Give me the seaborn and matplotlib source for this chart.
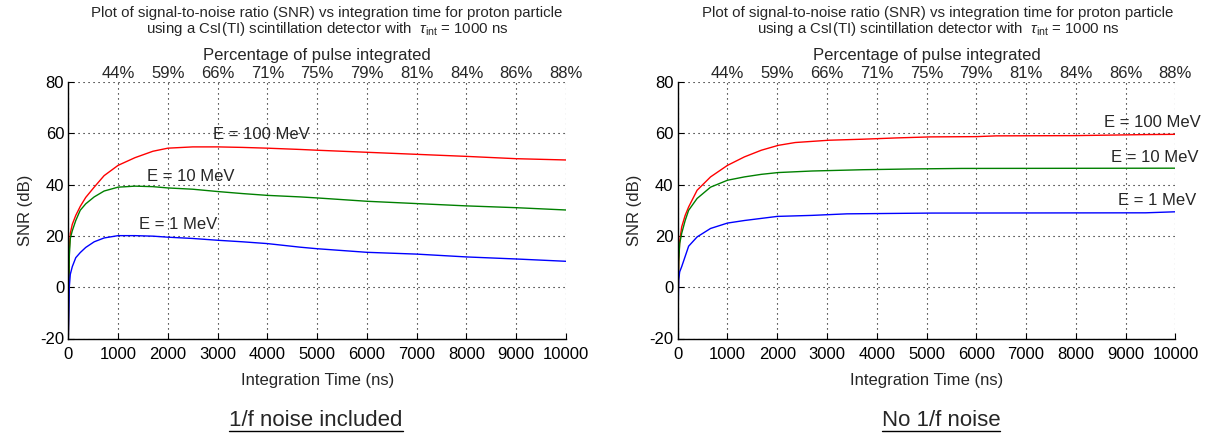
import matplotlib
matplotlib.use("Agg")
import matplotlib.pyplot as plt
import seaborn as sns
import numpy as np
from matplotlib.lines import Line2D

# ---- data ----
# left panel: 1/f noise included
t_left = [0, 20, 40, 80, 150, 240, 350, 520, 720, 1000, 1340, 1700, 2000, 2500,
          3000, 3500, 4000, 4660, 5000, 6000, 7000, 8000, 9000, 10000]
snr_left_100 = [-20, 15, 21, 24.5, 28, 31.5, 35, 39, 43.5, 47.5, 50.5, 53, 54.2, 54.7,
                54.7, 54.5, 54.2, 53.7, 53.4, 52.6, 51.8, 51.0, 50.1, 49.6]
snr_left_10 = [-20, 12, 19, 22, 26, 30, 32.5, 35.2, 37.5, 39, 39.4, 39.2, 38.7, 38.2,
               37.3, 36.5, 35.8, 35.2, 34.8, 33.5, 32.6, 31.7, 31.0, 30.1]
snr_left_1 = [-20, 0, 5, 8, 11.5, 13.5, 15.5, 17.7, 19.2, 20.1, 20.1, 19.9, 19.5, 19.0,
              18.3, 17.7, 17.0, 15.6, 15.0, 13.6, 12.9, 11.8, 11.0, 10.1]

# right panel: no 1/f noise
t_r100 = [0, 20, 40, 80, 150, 220, 390, 660, 1000, 1340, 1680, 2020, 2360, 3040,
          3720, 4400, 5080, 6000, 6400, 8000, 9400, 10000]
snr_r100 = [-20, 10, 18, 23.5, 28, 31.3, 37.8, 43, 47.5, 50.8, 53.4, 55.3, 56.4, 57.3,
            57.7, 58.2, 58.6, 58.7, 59.0, 59.1, 59.5, 59.6]
t_r10 = [0, 20, 40, 80, 150, 220, 390, 660, 1000, 1340, 1680, 2020, 2700, 3720,
         4700, 5700, 10000]
snr_r10 = [-20, 10, 17, 21, 26, 30, 34.6, 39, 41.7, 43, 44, 44.7, 45.3, 45.8,
           46.1, 46.3, 46.4]
t_r1 = [0, 20, 40, 80, 150, 220, 390, 660, 1000, 1340, 2000, 2700, 3400, 5100,
        9400, 10000]
snr_r1 = [-20, 3, 6, 8, 12, 16, 19.6, 22.9, 25, 26, 27.6, 28, 28.6, 28.9,
          29.0, 29.4]

pct_ticks = [1000, 2000, 3000, 4000, 5000, 6000, 7000, 8000, 9000, 10000]
pct_labels = ["44%", "59%", "66%", "71%", "75%", "79%", "81%", "84%", "86%", "88%"]

sns.set_style("white")
plt.rcParams['font.family'] = ['Liberation Sans', 'DejaVu Sans']
plt.rcParams['axes.unicode_minus'] = False
plt.rcParams['mathtext.fontset'] = 'custom'
plt.rcParams['mathtext.rm'] = 'Liberation Sans'
plt.rcParams['mathtext.it'] = 'Liberation Sans:italic'
FS = 12
TFS = 10.8

fig = plt.figure(figsize=(12.12, 4.37), dpi=100)
W, H = 1212, 437


def ax_at(x0, x1, ytop, ybot):
    return fig.add_axes([x0 / W, 1 - ybot / H, (x1 - x0) / W, (ybot - ytop) / H])


ax_l = ax_at(68.3, 566, 82, 338.5)
ax_r = ax_at(677.7, 1175.4, 82, 338.5)

panels = [
    (ax_l, [(t_left, snr_left_100, "red"), (t_left, snr_left_10, "green"), (t_left, snr_left_1, "blue")],
     [("E = 100 MeV", 2900, 59.5), ("E = 10 MeV", 1590, 43.3), ("E = 1 MeV", 1430, 24.3)]),
    (ax_r, [(t_r100, snr_r100, "red"), (t_r10, snr_r10, "green"), (t_r1, snr_r1, "blue")],
     [("E = 100 MeV", 8560, 64.3), ("E = 10 MeV", 8700, 50.6), ("E = 1 MeV", 8840, 33.8)]),
]

for ax, series, labels in panels:
    for t, s, c in series:
        sns.lineplot(x=t, y=s, color=c, lw=1.0, ax=ax)
    ax.set_xlim(0, 10000)
    ax.set_ylim(-20, 80)
    ax.set_xticks(np.arange(0, 10001, 1000))
    ax.set_yticks(np.arange(-20, 81, 20))
    ax.grid(True, color="black", linestyle=(0, (1, 3.5)), linewidth=0.8)
    for side in ["top", "right"]:
        ax.spines[side].set_visible(False)
    for side in ["left", "bottom"]:
        ax.spines[side].set_color("black")
        ax.spines[side].set_linewidth(1.0)
    ax.tick_params(direction="in", length=4, width=0.8, labelsize=FS, colors="black",
                   bottom=True, left=True)
    ax.tick_params(axis="x", pad=6)
    ax.tick_params(axis="y", pad=3)
    ax.set_xlabel("Integration Time (ns)", fontsize=FS, labelpad=8)
    ax.set_ylabel("SNR (dB)", fontsize=FS, labelpad=5)
    sec = ax.secondary_xaxis("top")
    sec.set_xticks(pct_ticks, pct_labels)
    sec.tick_params(length=0, labelsize=FS, pad=1)
    sec.spines["top"].set_visible(False)
    sec.set_xlabel("Percentage of pulse integrated", fontsize=FS, labelpad=4)
    for txt, x, y in labels:
        ax.text(x, y, txt, fontsize=FS, ha="left", va="center")

title1 = "Plot of signal-to-noise ratio (SNR) vs integration time for proton particle"
title2 = r"using a CsI(TI) scintillation detector with  $\tau_{\rm int}$ = 1000 ns"
for xc in [327, 938]:
    fig.text(xc / W, 1 - 13 / H, title1, fontsize=TFS, ha="center", va="center")
    fig.text(xc / W, 1 - 29 / H, title2, fontsize=TFS, ha="center", va="center")

caps = [fig.text(316 / W, 1 - 421 / H, "1/f noise included", fontsize=16, ha="center", va="center"),
        fig.text(941 / W, 1 - 421 / H, "No 1/f noise", fontsize=16, ha="center", va="center")]

fig.canvas.draw()
r = fig.canvas.get_renderer()
for c in caps:
    bb = c.get_window_extent(r)
    yl = bb.y0 + 1
    fig.add_artist(Line2D([bb.x0 / W, bb.x1 / W], [yl / H, yl / H], color="black",
                          lw=1.0, transform=fig.transFigure))

fig.savefig("out.png", dpi=100)
